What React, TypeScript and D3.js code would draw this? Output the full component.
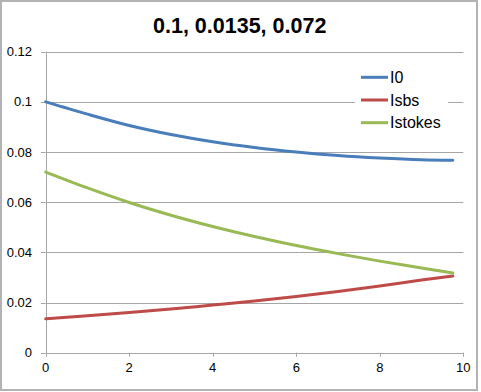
import React from "react";
import * as d3 from "d3";

const xValues = [0, 1, 2, 3, 4, 5, 6, 7, 8, 9, 9.75];
const i0Values = [0.1, 0.0951, 0.0906, 0.087, 0.0841, 0.0818, 0.08, 0.0786, 0.0776, 0.0769, 0.0767];
const isbsValues = [0.0135, 0.0147, 0.016, 0.0174, 0.019, 0.0206, 0.0224, 0.0244, 0.0266, 0.029, 0.0306];
const istokesValues = [0.072, 0.0657, 0.0599, 0.0548, 0.0503, 0.0463, 0.0427, 0.0395, 0.0365, 0.0338, 0.0318];
const seriesNames = ["I0", "Isbs", "Istokes"];
const seriesColors = ["#4a7ebb", "#be4b48", "#98b954"];
const xTicks = [0, 2, 4, 6, 8, 10];
const yTicks = [0, 0.02, 0.04, 0.06, 0.08, 0.1, 0.12];
const title = "0.1, 0.0135, 0.072";

export default function App() {
  const W = 481, H = 392;
  const x = d3.scaleLinear().domain([0, 10]).range([45.7, 463.3]);
  const y = d3.scaleLinear().domain([0, 0.12]).range([352.7, 51.7]);
  const series = [i0Values, isbsValues, istokesValues];
  const line = d3
    .line<number>()
    .x((_, i) => x(xValues[i]))
    .y((d) => y(d))
    .curve(d3.curveMonotoneX);
  const font = "'Liberation Sans', Arial, sans-serif";
  const grid = "#a6a6a6";
  return (
    <svg width={W} height={H} style={{ position: "absolute", left: 0, top: 0, background: "#fff" }}>
      <rect x={1} y={1} width={476} height={389} fill="#fff" stroke="#b3b3b3" strokeWidth={2} />
      <text x={239.7} y={33} textAnchor="middle" fontFamily={font} fontWeight="bold" fontSize={21.5} fill="#000">
        {title}
      </text>
      {yTicks.map((t) => (
        <g key={"y" + t}>
          <line x1={x(0)} x2={x(10)} y1={Math.round(y(t)) + 0.5} y2={Math.round(y(t)) + 0.5} stroke={grid} strokeWidth={1} />
          <line x1={41} x2={x(0)} y1={Math.round(y(t)) + 0.5} y2={Math.round(y(t)) + 0.5} stroke={grid} strokeWidth={1} />
          <text x={32} y={y(t)} dy="0.35em" textAnchor="end" fontFamily={font} fontSize={13} fill="#000">
            {String(t)}
          </text>
        </g>
      ))}
      <line x1={Math.round(x(0)) + 0.5} x2={Math.round(x(0)) + 0.5} y1={y(0.12)} y2={y(0) + 4} stroke={grid} strokeWidth={1} />
      {xTicks.map((t) => (
        <g key={"x" + t}>
          <line x1={Math.round(x(t)) + 0.5} x2={Math.round(x(t)) + 0.5} y1={y(0)} y2={y(0) + 4} stroke={grid} strokeWidth={1} />
          <text x={x(t)} y={372} textAnchor="middle" fontFamily={font} fontSize={13} fill="#000">
            {String(t)}
          </text>
        </g>
      ))}
      {series.map((s, i) => (
        <path key={seriesNames[i]} d={line(s) || ""} fill="none" stroke={seriesColors[i]} strokeWidth={3} strokeLinecap="round" />
      ))}
      <rect x={355} y={64} width={93} height={70} fill="#fff" />
      {seriesNames.map((n, i) => {
        const ly = 77.3 + i * 22.7;
        return (
          <g key={"lg" + n}>
            <line x1={361} x2={388} y1={ly} y2={ly} stroke={seriesColors[i]} strokeWidth={3} />
            <text x={390} y={ly} dy="0.36em" fontFamily={font} fontSize={16} fill="#000">
              {n}
            </text>
          </g>
        );
      })}
    </svg>
  );
}
